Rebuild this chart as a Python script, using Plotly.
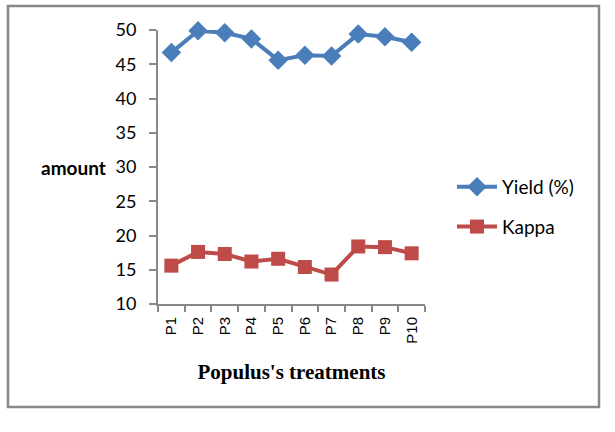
import plotly.graph_objects as go

categories = ["P1", "P2", "P3", "P4", "P5", "P6", "P7", "P8", "P9", "P10"]
yield_pct = [46.7, 49.9, 49.6, 48.7, 45.6, 46.3, 46.2, 49.4, 49.0, 48.2]
kappa = [15.6, 17.6, 17.3, 16.2, 16.6, 15.4, 14.3, 18.4, 18.3, 17.4]
y_ticks = [10, 15, 20, 25, 30, 35, 40, 45, 50]

W, H = 615, 432
L, R, T, B = 158, 425, 30, 304

fig = go.Figure()
fig.add_trace(go.Scatter(
    x=categories, y=yield_pct, name="Yield (%)", mode="lines+markers",
    line=dict(color="#4A7EBB", width=4),
    marker=dict(symbol="diamond", size=15, color="#4A7EBB"),
    legendgroup="a", cliponaxis=False,
))
fig.add_trace(go.Scatter(
    x=categories, y=kappa, name="Kappa", mode="lines+markers",
    line=dict(color="#BE4B48", width=4),
    marker=dict(symbol="square", size=14, color="#BE4B48"),
    legendgroup="b", cliponaxis=False,
))

pw, ph = R - L, B - T
def px(x):
    return (x - L) / pw
def py(y):
    return (B - y) / ph

fig.add_shape(type="rect", xref="paper", yref="paper",
              x0=px(8), x1=px(599), y0=py(407), y1=py(6),
              line=dict(color="#888888", width=2.5), fillcolor="rgba(0,0,0,0)", layer="below")

fig.update_layout(
    width=W, height=H,
    margin=dict(l=L, r=W - R, t=T, b=H - B, pad=0),
    paper_bgcolor="white", plot_bgcolor="white",
    showlegend=True,
    legend=dict(x=px(452), y=py(168), xanchor="left", yanchor="top",
                font=dict(family="Lato", size=19, color="black"),
                tracegroupgap=12, traceorder="grouped", itemwidth=40,
                bgcolor="rgba(0,0,0,0)"),
    xaxis=dict(
        type="category", showgrid=False, showline=True, linecolor="#888888", linewidth=2,
        ticks="outside", tickson="boundaries", ticklen=6, tickcolor="#888888", tickwidth=2,
        tickangle=-90, tickfont=dict(family="Liberation Sans", size=15, color="black"),
        ticklabelstandoff=5,
        range=[-0.5, 9.5],
        title=dict(text="<b>Populus's treatments</b>",
                   font=dict(family="Liberation Serif", size=21, color="black"), standoff=22),
    ),
    yaxis=dict(
        range=[10, 50], tickvals=y_ticks, showgrid=False, zeroline=False,
        showline=True, linecolor="#888888", linewidth=2,
        ticks="outside", ticklen=7, tickcolor="#888888", tickwidth=2,
        ticklabelstandoff=9,
        tickfont=dict(family="Lato", size=18, color="black"),
    ),
)

fig.add_annotation(text="<b>amount</b>", xref="paper", yref="paper",
                   x=px(108), y=py(167), xanchor="right", yanchor="middle",
                   showarrow=False, font=dict(family="Lato", size=19, color="black"))

fig.write_html("out.html", config={"displayModeBar": False},
               post_script="document.body.style.margin='0';document.body.style.overflow='hidden';")
